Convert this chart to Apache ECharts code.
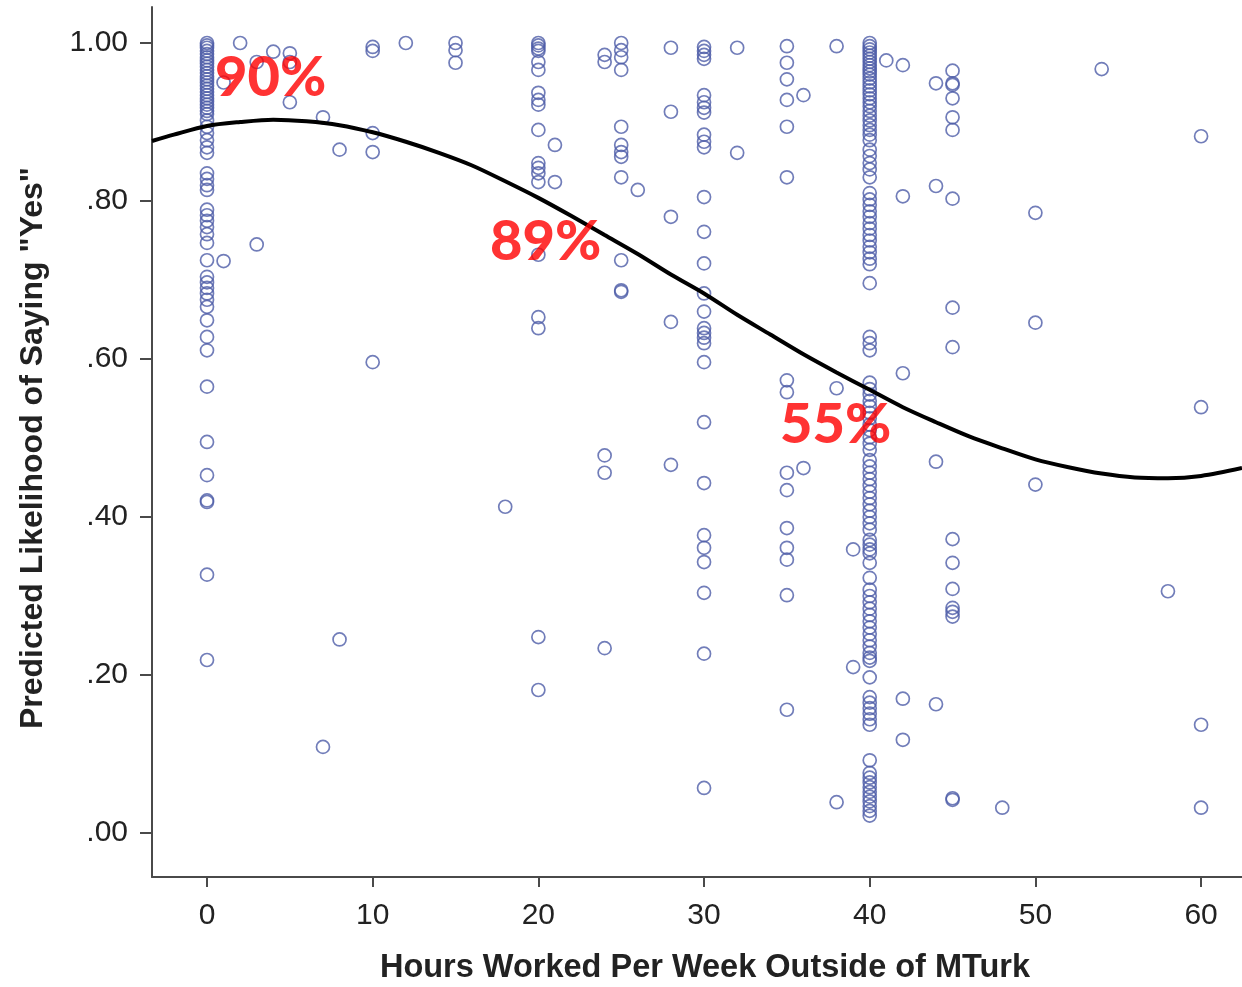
<!DOCTYPE html>
<html>
<head>
<meta charset="utf-8">
<script src="https://cdn.jsdelivr.net/npm/echarts@6/dist/echarts.min.js"></script>
<style>
  html, body { margin: 0; padding: 0; background: #fff; }
  #chart { width: 1242px; height: 987px; }
</style>
</head>
<body>
<div id="chart"></div>
<script>
// ---- Data ----
const xTickValues = [0, 10, 20, 30, 40, 50, 60];
const xTickLabels = ['0', '10', '20', '30', '40', '50', '60'];
const yTickValues = [0, 0.2, 0.4, 0.6, 0.8, 1.0];
const yTickLabels = ['.00', '.20', '.40', '.60', '.80', '1.00'];

// Columns of points (hours worked -> predicted likelihood values)
const hours0 = [1.0, 0.997, 0.994, 0.99, 0.986, 0.982, 0.978, 0.974, 0.97, 0.966, 0.962, 0.958, 0.954, 0.95, 0.946, 0.942, 0.938, 0.934, 0.93, 0.926, 0.922, 0.918, 0.914, 0.91, 0.902, 0.894, 0.886, 0.877, 0.868, 0.861, 0.835, 0.828, 0.82, 0.814, 0.789, 0.782, 0.775, 0.767, 0.758, 0.747, 0.725, 0.704, 0.697, 0.69, 0.683, 0.675, 0.666, 0.649, 0.628, 0.611, 0.565, 0.495, 0.453, 0.421, 0.419, 0.327, 0.219];
const hours10 = [0.995, 0.99, 0.886, 0.862, 0.596];
const hours15 = [1.0, 0.991, 0.975];
const hours20 = [1.0, 0.997, 0.993, 0.99, 0.976, 0.966, 0.937, 0.928, 0.922, 0.89, 0.848, 0.842, 0.835, 0.824, 0.732, 0.653, 0.639, 0.248, 0.181];
const hours24 = [0.985, 0.976, 0.478, 0.456, 0.234];
const hours25 = [1.0, 0.991, 0.982, 0.966, 0.894, 0.871, 0.862, 0.856, 0.83, 0.725, 0.687, 0.685];
const hours28 = [0.994, 0.913, 0.78, 0.647, 0.466];
const hours30 = [0.995, 0.99, 0.985, 0.98, 0.934, 0.925, 0.918, 0.912, 0.884, 0.875, 0.868, 0.805, 0.761, 0.721, 0.683, 0.66, 0.639, 0.633, 0.627, 0.62, 0.596, 0.52, 0.443, 0.377, 0.361, 0.343, 0.304, 0.227, 0.057];
const hours35 = [0.996, 0.975, 0.954, 0.928, 0.894, 0.83, 0.573, 0.558, 0.456, 0.434, 0.386, 0.361, 0.346, 0.301, 0.156];
const hours38 = [0.996, 0.563, 0.039];
const hours39 = [0.359, 0.21];
const hours40 = [1.0, 0.996, 0.992, 0.988, 0.984, 0.98, 0.976, 0.972, 0.968, 0.964, 0.96, 0.955, 0.95, 0.945, 0.94, 0.935, 0.93, 0.925, 0.92, 0.914, 0.908, 0.902, 0.896, 0.89, 0.884, 0.877, 0.865, 0.857, 0.848, 0.84, 0.83, 0.81, 0.802, 0.795, 0.787, 0.78, 0.772, 0.765, 0.757, 0.75, 0.742, 0.735, 0.727, 0.72, 0.696, 0.628, 0.62, 0.611, 0.57, 0.562, 0.555, 0.547, 0.54, 0.532, 0.525, 0.517, 0.51, 0.501, 0.493, 0.485, 0.472, 0.464, 0.456, 0.448, 0.44, 0.432, 0.424, 0.416, 0.408, 0.4, 0.392, 0.384, 0.371, 0.365, 0.359, 0.354, 0.342, 0.323, 0.308, 0.3, 0.292, 0.284, 0.276, 0.268, 0.26, 0.252, 0.244, 0.236, 0.228, 0.222, 0.218, 0.197, 0.172, 0.165, 0.158, 0.151, 0.144, 0.137, 0.092, 0.076, 0.07, 0.064, 0.058, 0.052, 0.046, 0.04, 0.034, 0.028, 0.022];
const hours42 = [0.972, 0.806, 0.582, 0.17, 0.118];
const hours44 = [0.949, 0.819, 0.47, 0.163];
const hours45 = [0.965, 0.949, 0.947, 0.93, 0.906, 0.89, 0.803, 0.665, 0.615, 0.372, 0.342, 0.309, 0.285, 0.28, 0.274, 0.044, 0.042];
const hours50 = [0.785, 0.646, 0.441];
const hours60 = [0.882, 0.539, 0.137, 0.032];
// Single points [hours, likelihood]
const singles = [[1, 0.95], [1, 0.724], [2, 1.0], [3, 0.976], [3, 0.745], [4, 0.989], [5, 0.987], [5, 0.976], [5, 0.925], [7, 0.906], [7, 0.109], [8, 0.865], [8, 0.245], [12, 1.0], [18, 0.413], [21, 0.871], [21, 0.824], [26, 0.814], [32, 0.994], [32, 0.861], [36, 0.934], [36, 0.462], [41, 0.978], [48, 0.032], [54, 0.967], [58, 0.306]];

// Fitted curve
const curveHours = [-3.32, -2, 0, 2, 4, 6, 8, 10, 12, 14, 16, 18, 20, 22, 24, 26, 28, 30, 32, 34, 36, 38, 40, 42, 44, 46, 48, 50, 52, 54, 56, 58, 60, 62.47];
const curveValues = [0.876, 0.884, 0.895, 0.900, 0.903, 0.901, 0.896, 0.887, 0.875, 0.861, 0.845, 0.825, 0.804, 0.781, 0.757, 0.733, 0.707, 0.683, 0.656, 0.631, 0.606, 0.583, 0.561, 0.539, 0.520, 0.502, 0.487, 0.473, 0.463, 0.455, 0.450, 0.449, 0.452, 0.462];

// Annotations
const annoText = ['90%', '89%', '55%'];
const annoHours = [0.48, 17.08, 34.59];
const annoValues = [0.956, 0.748, 0.516];

// ---- Build ----
const columns = [[0, hours0], [10, hours10], [15, hours15], [20, hours20], [24, hours24], [25, hours25], [28, hours28], [30, hours30], [35, hours35], [38, hours38], [39, hours39], [40, hours40], [42, hours42], [44, hours44], [45, hours45], [50, hours50], [60, hours60]];
const points = [];
columns.forEach(([h, vals]) => vals.forEach(v => points.push([h, v])));
singles.forEach(p => points.push(p));

const curve = curveHours.map((h, i) => [h, curveValues[i]]);
const annos = annoText.map((t, i) => ({ value: [annoHours[i], annoValues[i]], name: t }));

const axisColor = '#4a4a4a';
const chart = echarts.init(document.getElementById('chart'), null, { renderer: 'canvas' });
chart.setOption({
  animation: false,
  backgroundColor: '#ffffff',
  grid: { left: 152, right: 0, top: 7, bottom: 110, containLabel: false, outerBoundsMode: 'none' },
  xAxis: {
    type: 'value',
    min: -3.32,
    max: 62.47,
    name: 'Hours Worked Per Week Outside of MTurk',
    nameLocation: 'middle',
    nameGap: 75,
    nameTextStyle: { fontFamily: 'Liberation Sans, Arial', fontWeight: 'bold', fontSize: 32.5, color: '#222', padding: [0, 0, 0, 16] },
    splitLine: { show: false },
    axisLine: { show: true, onZero: false, lineStyle: { color: axisColor, width: 2 } },
    axisTick: { show: true, customValues: xTickValues, length: 10, lineStyle: { color: axisColor, width: 2 } },
    axisLabel: {
      customValues: xTickValues,
      formatter: v => xTickLabels[xTickValues.indexOf(v)] ?? '',
      margin: 24, fontFamily: 'Liberation Sans, Arial', fontSize: 30, color: '#222'
    }
  },
  yAxis: {
    type: 'value',
    min: -0.0557,
    max: 1.0456,
    name: 'Predicted Likelihood of Saying "Yes"',
    nameLocation: 'middle',
    nameGap: 103,
    nameRotate: 90,
    nameTextStyle: { fontFamily: 'Liberation Sans, Arial', fontWeight: 'bold', fontSize: 32, color: '#222', padding: [0, 12, 0, 0] },
    splitLine: { show: false },
    axisLine: { show: true, onZero: false, lineStyle: { color: axisColor, width: 2 } },
    axisTick: { show: true, customValues: yTickValues, length: 12, lineStyle: { color: axisColor, width: 2 } },
    axisLabel: {
      customValues: yTickValues,
      formatter: v => {
        const i = yTickValues.findIndex(t => Math.abs(t - v) < 1e-6);
        return i >= 0 ? yTickLabels[i] : '';
      },
      margin: 24, fontFamily: 'Liberation Sans, Arial', fontSize: 30, color: '#222'
    }
  },
  series: [
    {
      type: 'scatter',
      data: points,
      symbol: 'circle',
      symbolSize: 13,
      itemStyle: { color: 'rgba(0,0,0,0)', borderColor: '#4d5da8', borderWidth: 1.7 },
      emphasis: { disabled: true },
      z: 2
    },
    {
      type: 'line',
      data: curve,
      smooth: 0.3,
      showSymbol: false,
      lineStyle: { color: '#000', width: 4 },
      emphasis: { disabled: true },
      z: 3
    },
    {
      type: 'scatter',
      data: annos,
      symbolSize: 0,
      label: {
        show: true,
        position: [0, 0],
        align: 'left',
        verticalAlign: 'middle',
        formatter: p => p.name,
        fontFamily: 'Lato, Open Sans, sans-serif',
        fontWeight: 900,
        fontSize: 56,
        color: '#ff0000'
      },
      emphasis: { disabled: true },
      z: 5
    }
  ]
});
</script>
</body>
</html>
